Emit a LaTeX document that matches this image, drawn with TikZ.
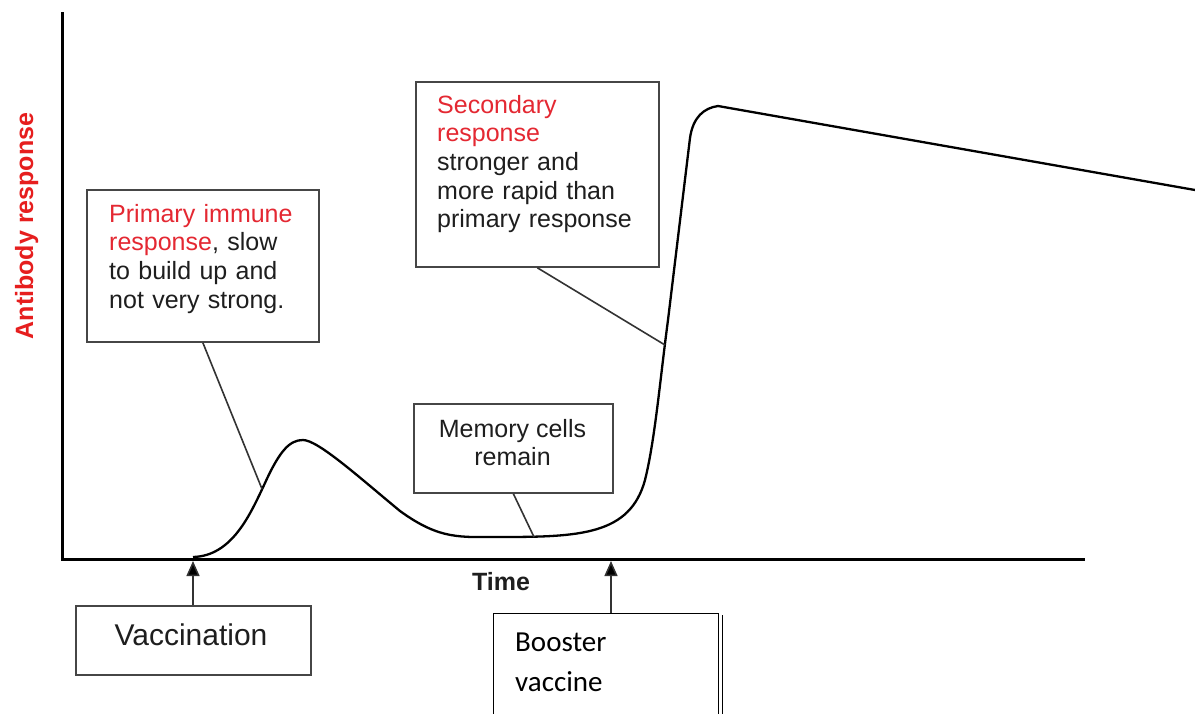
\documentclass[tikz,border=0pt]{standalone}
\usepackage{fontspec}
\setmainfont{Liberation Sans}
\newfontfamily\calibri{Carlito}
\usetikzlibrary{arrows.meta,calc}
\definecolor{lblred}{RGB}{228,40,50}
\definecolor{axred}{RGB}{230,30,30}
\definecolor{boxgray}{RGB}{70,70,70}
\definecolor{txt}{RGB}{30,30,30}
\begin{document}
\begin{tikzpicture}[x=1pt,y=-1pt,
  box/.style={draw=boxgray, line width=1.8pt, inner sep=0pt, anchor=north west},
  body/.style={font=\fontsize{25}{28.6}\selectfont, text=txt, inner sep=0pt},
  leader/.style={draw=black!80, line width=1.6pt},
  curve/.style={line width=2.3pt, black, line join=round},
  axis/.style={line width=3pt, black},
  uparrow/.style={line width=1.5pt, draw=black!80, -{Triangle[length=15pt,width=13pt,fill=black]}}]
\useasboundingbox (0,0) rectangle (1195,713);
\clip (0,0) rectangle (1195,713);
\fill[white] (0,0) rectangle (1195,713);

% axes
\coordinate (ytop) at (62,12);
\coordinate (origin) at (62,559);
\coordinate (xend) at (1085,559);
\draw[axis] (ytop) -- (origin) -- (xend);

% axis labels
\node[rotate=90, anchor=base, font=\bfseries\fontsize{25}{30}\selectfont, text=axred, inner sep=0pt] (ylab) at (33,226) {Antibody response};
\node[anchor=base, font=\bfseries\fontsize{25}{30}\selectfont, text=txt, inner sep=0pt] (tlab) at (501,590) {Time};

% response curve
\draw[curve] (193,557) .. controls (232,556) and (250,515) .. (265,483)
  .. controls (280,450) and (290,440) .. (303,440)
  .. controls (318,440) and (360,478) .. (400,511)
  .. controls (440,540) and (460,537) .. (500,537)
  .. controls (580,537) and (630,535) .. (645,480)
  .. controls (655,440) and (660,380) .. (668,320)
  -- (690,138) .. controls (693,117) and (704,108) .. (718,106)
  -- (1195,190);
\coordinate (onprim) at (262,489);
\coordinate (onsec) at (665,345);
\coordinate (onmem) at (534,537);

% boxes
\node[box, minimum width=232pt, minimum height=152pt] (pbox) at (86,189) {};
\node[body, anchor=north west, text width=220pt, align=left] (ptext) at (109,204)
  {\textcolor{lblred}{Primary immune}\\\textcolor{lblred}{response}, slow\\to build up and\\not very strong.};

\node[box, minimum width=243pt, minimum height=185pt] (sbox) at (415,81) {};
\node[body, anchor=north west, text width=220pt, align=left] (stext) at (437,95)
  {\textcolor{lblred}{Secondary}\\\textcolor{lblred}{response}\\stronger and\\more rapid than\\primary response};

\node[box, minimum width=199pt, minimum height=89pt] (mbox) at (413,403) {};
\node[body, anchor=north, align=center] (mtext) at (512.5,419) {Memory cells\\remain};

\node[box, minimum width=235pt, minimum height=69pt] (vbox) at (75,605) {};
\node[anchor=base, font=\fontsize{30}{36}\selectfont, text=txt, inner sep=0pt] (vtext) at (191,645) {Vaccination};

\node[draw=black, line width=1.3pt, inner sep=0pt, anchor=north west, minimum width=225pt, minimum height=150pt] (bbox) at (493,613) {};
\draw[line width=1.2pt] ([xshift=3.5pt,yshift=-2pt]bbox.north east) -- ([xshift=3.5pt]bbox.south east);
\node[anchor=north west, font=\calibri\fontsize{29}{40}\selectfont, text width=200pt, align=left, inner sep=0pt] (btext) at (515,633) {Booster\\vaccine};

% leaders
\draw[leader] (pbox.south) -- (onprim);
\draw[leader] (sbox.south) -- (onsec);
\draw[leader] (mbox.south) -- (onmem);

% arrows
\coordinate (vtip) at (193,561);
\coordinate (btip) at (611,561);
\draw[uparrow] (vbox.north -| vtip) -- (vtip);
\draw[uparrow] (bbox.north -| btip) -- (btip);
\end{tikzpicture}
\end{document}
